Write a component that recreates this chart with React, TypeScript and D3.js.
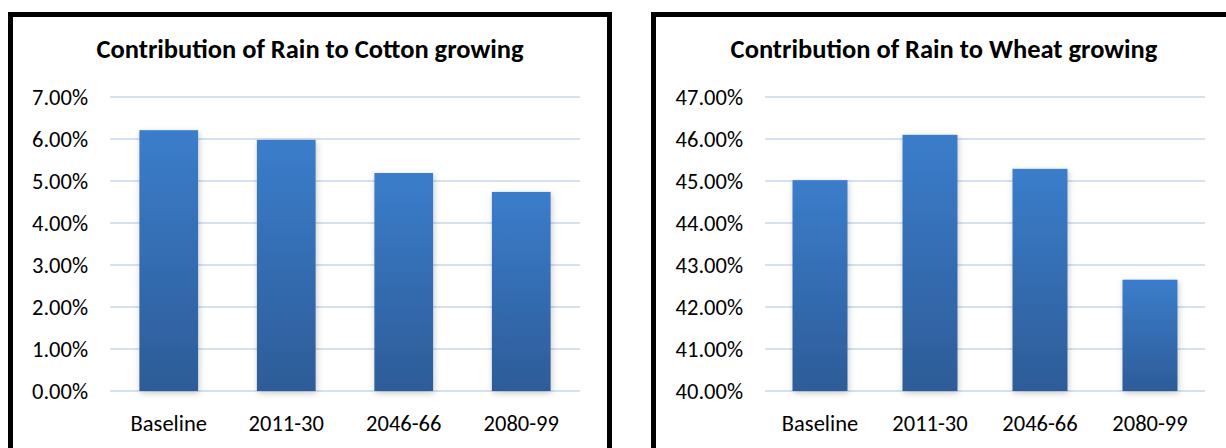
import React from "react";
import * as d3 from "d3";

const categories = ["Baseline", "2011-30", "2046-66", "2080-99"];
const cottonValues = [6.21, 5.98, 5.19, 4.74];
const wheatValues = [45.02, 46.1, 45.29, 42.65];
const cottonTicks = [0, 1, 2, 3, 4, 5, 6, 7];
const wheatTicks = [40, 41, 42, 43, 44, 45, 46, 47];
const cottonTitle = "Contribution of Rain to Cotton growing";
const wheatTitle = "Contribution of Rain to Wheat growing";

const FONT = "Calibri, Carlito, Lato, 'Open Sans', sans-serif";

type PanelProps = {
  id: string;
  title: string;
  values: number[];
  ticks: number[];
  box: { x: number; y: number; w: number; h: number };
  plot: { x0: number; x1: number; y0: number; y1: number };
  titleX: number;
};

function Panel({ id, title, values, ticks, box, plot, titleX }: PanelProps) {
  const x = d3
    .scaleBand<string>()
    .domain(categories)
    .range([plot.x0, plot.x1])
    .paddingInner(0.5)
    .paddingOuter(0.25);
  const y = d3
    .scaleLinear()
    .domain([ticks[0], ticks[ticks.length - 1]])
    .range([plot.y1, plot.y0]);
  return (
    <g>
      <rect
        x={box.x}
        y={box.y}
        width={box.w}
        height={box.h}
        fill="#ffffff"
        stroke="#000000"
        strokeWidth={5}
      />
      <text
        x={titleX}
        y={57.5}
        textAnchor="middle"
        fontFamily={FONT}
        fontWeight="bold"
        fontSize={26.5}
        fill="#000"
      >
        {title}
      </text>
      {ticks.map((t) => (
        <g key={t}>
          <line
            x1={plot.x0}
            x2={plot.x1}
            y1={y(t)}
            y2={y(t)}
            stroke="#d5e1ef"
            strokeWidth={2}
          />
          <text
            x={plot.x0 - 22}
            y={y(t) + 7.5}
            textAnchor="end"
            fontFamily={FONT}
            fontSize={22.5}
            fill="#000"
          >
            {d3.format(".2f")(t) + "%"}
          </text>
        </g>
      ))}
      {values.map((v, i) => (
        <rect
          key={categories[i]}
          x={x(categories[i])}
          y={y(v)}
          width={x.bandwidth()}
          height={y(ticks[0]) - y(v)}
          fill={`url(#grad-${id})`}
          filter="url(#barShadow)"
        />
      ))}
      {categories.map((c) => (
        <text
          key={c}
          x={(x(c) as number) + x.bandwidth() / 2}
          y={430.5}
          textAnchor="middle"
          fontFamily={FONT}
          fontSize={22.5}
          fill="#000"
        >
          {c}
        </text>
      ))}
    </g>
  );
}

export default function App() {
  return (
    <svg
      width={1226}
      height={448}
      style={{ position: "absolute", left: 0, top: 0, background: "#fff" }}
    >
      <defs>
        {["cotton", "wheat"].map((id) => (
          <linearGradient key={id} id={`grad-${id}`} x1="0" y1="0" x2="0" y2="1">
            <stop offset="0" stopColor="#3b7dcb" />
            <stop offset="1" stopColor="#2d5c98" />
          </linearGradient>
        ))}
        <filter id="barShadow" x="-30%" y="-10%" width="160%" height="120%">
          <feDropShadow dx="1" dy="2" stdDeviation="3" floodColor="#000" floodOpacity="0.22" />
        </filter>
      </defs>
      <rect x={0} y={0} width={1226} height={448} fill="#fff" />
      <Panel
        id="cotton"
        title={cottonTitle}
        values={cottonValues}
        ticks={cottonTicks}
        box={{ x: 10.5, y: 14.5, w: 599, h: 460 }}
        plot={{ x0: 110, x1: 580, y0: 97, y1: 391 }}
        titleX={310}
      />
      <Panel
        id="wheat"
        title={wheatTitle}
        values={wheatValues}
        ticks={wheatTicks}
        box={{ x: 653.5, y: 14.5, w: 620, h: 460 }}
        plot={{ x0: 765, x1: 1205, y0: 97, y1: 391 }}
        titleX={944}
      />
    </svg>
  );
}
